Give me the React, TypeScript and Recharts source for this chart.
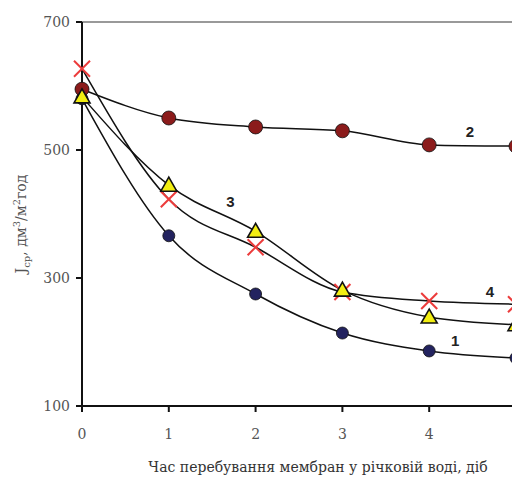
import { CartesianGrid, Label, Line, LineChart, ReferenceDot, ReferenceLine, XAxis, YAxis } from 'recharts';

const days = [0, 1, 2, 3, 4, 5];
const series1 = [580, 366, 275, 214, 186, 175];
const series2 = [595, 550, 536, 530, 508, 506];
const series3 = [583, 445, 373, 281, 239, 227];
const series4 = [627, 423, 348, 278, 264, 259];
const yTicks = [100, 300, 500, 700];
const curveLabels = [
  { text: '1', x: 4.3, y: 202 },
  { text: '2', x: 4.47, y: 528 },
  { text: '3', x: 1.71, y: 419 },
  { text: '4', x: 4.7, y: 278 }
];

const data = days.map((d, i) => ({
  day: d,
  s1: series1[i],
  s2: series2[i],
  s3: series3[i],
  s4: series4[i]
}));

const serif = '"DejaVu Serif", "Liberation Serif", serif';

const CircleDot = (fill: string, r: number) => (props: any) => {
  const { cx, cy, index } = props;
  if (cx == null || cy == null) return <g key={index} />;
  return <circle key={index} cx={cx} cy={cy} r={r} fill={fill} stroke='#111' strokeWidth={0.8} />;
};

const TriangleDot = (props: any) => {
  const { cx, cy, index } = props;
  if (cx == null || cy == null) return <g key={index} />;
  const s = 8;
  return (
    <polygon
      key={index}
      points={`${cx},${cy - s} ${cx - s},${cy + s * 0.75} ${cx + s},${cy + s * 0.75}`}
      fill='#f2ee12'
      stroke='#111'
      strokeWidth={1.6}
    />
  );
};

const CrossDot = (props: any) => {
  const { cx, cy, index } = props;
  if (cx == null || cy == null) return <g key={index} />;
  const s = 8;
  return (
    <g key={index} stroke='#ec3b3b' strokeWidth={2}>
      <line x1={cx - s} y1={cy - s} x2={cx + s} y2={cy + s} />
      <line x1={cx - s} y1={cy + s} x2={cx + s} y2={cy - s} />
    </g>
  );
};

export default function App() {
  return (
    <div style={{ position: 'absolute', left: 0, top: 0, width: 512, height: 480, overflow: 'hidden', background: '#fff' }}>
      <LineChart width={540} height={480} data={data} margin={{ top: 22, right: 24, left: 0, bottom: 0 }}>
        <CartesianGrid vertical={false} horizontal={false} />
        <XAxis
          dataKey='day'
          type='number'
          domain={[0, 5]}
          ticks={days}
          height={74}
          tickSize={6}
          tickMargin={17}
          stroke='#111'
          strokeWidth={2}
          tick={{ fill: '#555', fontSize: 14, fontFamily: serif }}>
          <Label
            content={() => (
              <text x={318} y={472} textAnchor='middle' fontSize={14} fontFamily={serif} fill='#333'>
                Час перебування мембран у річковій воді, діб
              </text>
            )}
          />
        </XAxis>
        <YAxis
          type='number'
          domain={[100, 700]}
          ticks={yTicks}
          width={82}
          tickSize={6}
          tickMargin={6}
          stroke='#111'
          strokeWidth={2}
          tick={{ fill: '#555', fontSize: 14, fontFamily: serif }}>
          <Label
            content={() => (
              <text
                transform='translate(26, 224) rotate(-90)'
                textAnchor='middle'
                fontSize={14}
                fontFamily={serif}
                fill='#555'>
                <tspan>J</tspan>
                <tspan fontSize={10} dy={4}>ср</tspan>
                <tspan dy={-4}>, дм</tspan>
                <tspan fontSize={10} dy={-6}>3</tspan>
                <tspan dy={6}>/м</tspan>
                <tspan fontSize={10} dy={-6}>2</tspan>
                <tspan dy={6}>год</tspan>
              </text>
            )}
          />
        </YAxis>
        <ReferenceLine y={700} stroke='#999' strokeWidth={2} />
        <Line type='monotone' dataKey='s4' stroke='#111' strokeWidth={1.5} dot={CrossDot} isAnimationActive={false} />
        <Line type='monotone' dataKey='s1' stroke='#111' strokeWidth={1.5} dot={CircleDot('#23235f', 6)} isAnimationActive={false} />
        <Line type='monotone' dataKey='s2' stroke='#111' strokeWidth={1.5} dot={CircleDot('#8b1b1b', 7)} isAnimationActive={false} />
        <Line type='monotone' dataKey='s3' stroke='#111' strokeWidth={1.5} dot={TriangleDot} isAnimationActive={false} />
        {curveLabels.map((l) => (
          <ReferenceDot
            key={l.text}
            x={l.x}
            y={l.y}
            r={0}
            fill='none'
            stroke='none'
            label={{ value: l.text, position: 'center', fontSize: 15, fontWeight: 'bold', fill: '#222', fontFamily: '"Liberation Sans", sans-serif' }}
          />
        ))}
      </LineChart>
    </div>
  );
}
